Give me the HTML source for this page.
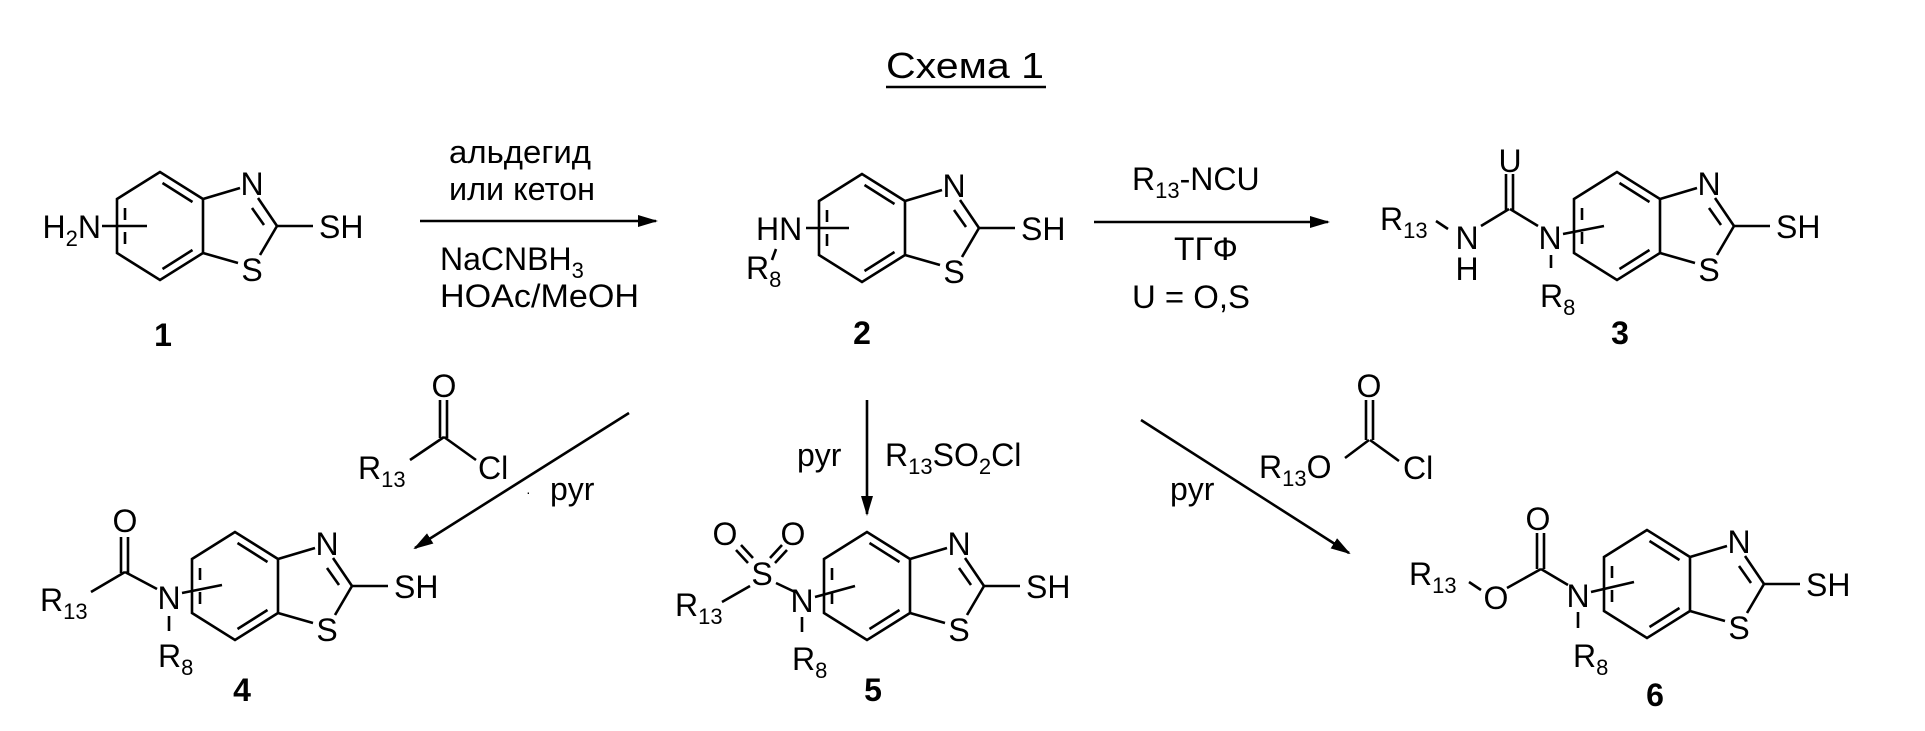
<!DOCTYPE html>
<html><head><meta charset="utf-8"><style>
html,body{margin:0;padding:0;background:#fff;}
svg{display:block;}
text{font-family:"Liberation Sans",sans-serif;fill:#000;}
.a{font-size:32px;}
.s{font-size:22px;}
.b{font-size:32px;font-weight:bold;}
</style></head><body>
<svg width="1925" height="731" viewBox="0 0 1925 731" xmlns="http://www.w3.org/2000/svg">
<defs>
<marker id="ah" markerWidth="20" markerHeight="12" refX="18" refY="6" orient="auto" markerUnits="userSpaceOnUse">
<path d="M0,0 L20,6 L0,12 Z" fill="#000"/>
</marker>
<g id="bt" fill="none" stroke="#000" stroke-width="2.6">
<path d="M0,0 L-43,27 L-43,81 L0,108 L43,81 L43,27 Z"/>
<line x1="2.5" y1="11" x2="32.5" y2="30"/>
<line x1="32.5" y1="78" x2="2.5" y2="97"/>
<line x1="-35" y1="36" x2="-35" y2="48"/>
<line x1="-35" y1="60" x2="-35" y2="72"/>
<line x1="43" y1="27" x2="80" y2="16"/>
<line x1="98" y1="26" x2="117" y2="54"/>
<line x1="92" y1="36" x2="104" y2="53"/>
<line x1="117" y1="54" x2="100" y2="83"/>
<line x1="78" y1="91" x2="43" y2="81"/>
<line x1="117" y1="54" x2="153" y2="54"/>
</g>
</defs>

<text x="886" y="78" font-size="36" textLength="158" lengthAdjust="spacingAndGlyphs">Схема 1</text>
<line x1="886" y1="87" x2="1046" y2="87" stroke="#000" stroke-width="2.5"/>

<use href="#bt" x="160" y="172"/>
<use href="#bt" x="862" y="174"/>
<use href="#bt" x="1617" y="172"/>
<use href="#bt" x="235" y="532"/>
<use href="#bt" x="867" y="532"/>
<use href="#bt" x="1647" y="530"/>

<g class="a" text-anchor="middle">
<text x="252" y="195">N</text><text x="252" y="281">S</text>
<text x="954" y="197">N</text><text x="954" y="283">S</text>
<text x="1709" y="195">N</text><text x="1709" y="281">S</text>
<text x="327" y="555">N</text><text x="327" y="641">S</text>
<text x="959" y="555">N</text><text x="959" y="641">S</text>
<text x="1739" y="553">N</text><text x="1739" y="639">S</text>
</g>
<g class="a">
<text x="319" y="238">SH</text>
<text x="1021" y="240">SH</text>
<text x="1776" y="238">SH</text>
<text x="394" y="598">SH</text>
<text x="1026" y="598">SH</text>
<text x="1806" y="596">SH</text>
</g>

<g fill="none" stroke="#000" stroke-width="2.6">
<line x1="102" y1="226" x2="147" y2="226"/>
<line x1="806" y1="228" x2="849" y2="228"/>
<line x1="776" y1="249" x2="772" y2="260"/>
<line x1="1436" y1="221" x2="1448" y2="229"/>
<line x1="1481" y1="226" x2="1509" y2="209"/>
<line x1="1506" y1="210" x2="1506" y2="174"/>
<line x1="1513" y1="210" x2="1513" y2="174"/>
<line x1="1510" y1="209" x2="1538" y2="226"/>
<line x1="1563" y1="234" x2="1604" y2="226"/>
<line x1="1551" y1="255" x2="1551" y2="268"/>
<line x1="121" y1="573" x2="121" y2="537"/>
<line x1="128" y1="573" x2="128" y2="537"/>
<line x1="125" y1="572" x2="91" y2="592"/>
<line x1="125" y1="572" x2="157" y2="589"/>
<line x1="182" y1="593" x2="222" y2="585"/>
<line x1="169" y1="616" x2="169" y2="631"/>
<line x1="440" y1="438" x2="440" y2="400"/>
<line x1="447" y1="438" x2="447" y2="400"/>
<line x1="444" y1="437" x2="410" y2="460"/>
<line x1="444" y1="437" x2="476" y2="460"/>
<line x1="741" y1="545" x2="753" y2="558"/>
<line x1="736" y1="550" x2="748" y2="563"/>
<line x1="782" y1="545" x2="770" y2="558"/>
<line x1="787" y1="550" x2="775" y2="563"/>
<line x1="750" y1="586" x2="722" y2="602"/>
<line x1="776" y1="583" x2="795" y2="592"/>
<line x1="815" y1="597" x2="855" y2="586"/>
<line x1="802" y1="617" x2="802" y2="632"/>
<line x1="1537" y1="569" x2="1537" y2="533"/>
<line x1="1544" y1="569" x2="1544" y2="533"/>
<line x1="1541" y1="569" x2="1507" y2="588"/>
<line x1="1541" y1="569" x2="1568" y2="585"/>
<line x1="1481" y1="590" x2="1469" y2="582"/>
<line x1="1591" y1="592" x2="1634" y2="582"/>
<line x1="1578" y1="612" x2="1578" y2="628"/>
<line x1="1366" y1="440" x2="1366" y2="400"/>
<line x1="1373" y1="440" x2="1373" y2="400"/>
<line x1="1369" y1="440" x2="1345" y2="458"/>
<line x1="1370" y1="440" x2="1399" y2="461"/>
</g>

<g stroke="#000" stroke-width="2.6" fill="none">
<line x1="420" y1="221" x2="656" y2="221" marker-end="url(#ah)"/>
<line x1="1094" y1="222" x2="1328" y2="222" marker-end="url(#ah)"/>
<line x1="629" y1="413" x2="415" y2="548" marker-end="url(#ah)"/>
<line x1="867" y1="400" x2="867" y2="514" marker-end="url(#ah)"/>
<line x1="1141" y1="420" x2="1349" y2="553" marker-end="url(#ah)"/>
</g>

<g class="a">
<text x="101" y="238" text-anchor="end">H<tspan class="s" dy="8">2</tspan><tspan dy="-8">N</tspan></text>
<text x="756" y="240">HN</text>
<text x="746" y="279">R<tspan class="s" dy="8">8</tspan></text>

<text x="1380" y="230">R<tspan class="s" dy="8">13</tspan></text>
<text x="1467" y="249" text-anchor="middle">N</text>
<text x="1467" y="280" text-anchor="middle">H</text>
<text x="1510" y="172" text-anchor="middle">U</text>
<text x="1550" y="249" text-anchor="middle">N</text>
<text x="1540" y="307">R<tspan class="s" dy="8">8</tspan></text>

<text x="40" y="611">R<tspan class="s" dy="8">13</tspan></text>
<text x="125" y="532" text-anchor="middle">O</text>
<text x="169" y="609" text-anchor="middle">N</text>
<text x="158" y="667">R<tspan class="s" dy="8">8</tspan></text>

<text x="444" y="397" text-anchor="middle">O</text>
<text x="358" y="479">R<tspan class="s" dy="8">13</tspan></text>
<text x="478" y="479">Cl</text>
<text x="550" y="500">pyr</text>
<text x="526" y="497" font-size="14">·</text>

<text x="797" y="466">pyr</text>
<text x="885" y="466">R<tspan class="s" dy="8">13</tspan><tspan dy="-8">SO</tspan><tspan class="s" dy="8">2</tspan><tspan dy="-8">Cl</tspan></text>
<text x="725" y="545" text-anchor="middle">O</text>
<text x="793" y="545" text-anchor="middle">O</text>
<text x="762" y="585" text-anchor="middle">S</text>
<text x="802" y="612" text-anchor="middle">N</text>
<text x="675" y="616">R<tspan class="s" dy="8">13</tspan></text>
<text x="792" y="670">R<tspan class="s" dy="8">8</tspan></text>

<text x="1369" y="397" text-anchor="middle">O</text>
<text x="1259" y="478">R<tspan class="s" dy="8">13</tspan><tspan dy="-8">O</tspan></text>
<text x="1403" y="479">Cl</text>
<text x="1170" y="500">pyr</text>

<text x="1409" y="585">R<tspan class="s" dy="8">13</tspan></text>
<text x="1496" y="609" text-anchor="middle">O</text>
<text x="1538" y="530" text-anchor="middle">O</text>
<text x="1578" y="607" text-anchor="middle">N</text>
<text x="1573" y="667">R<tspan class="s" dy="8">8</tspan></text>
</g>

<g class="a" text-anchor="middle">
<text x="520" y="163" textLength="142" lengthAdjust="spacingAndGlyphs">альдегид</text>
<text x="522" y="200" textLength="146" lengthAdjust="spacingAndGlyphs">или кетон</text>
<text x="1206" y="260" textLength="64" lengthAdjust="spacingAndGlyphs">ТГФ</text>
<text x="1191" y="308" textLength="118" lengthAdjust="spacingAndGlyphs">U = O,S</text>
</g>
<g class="a">
<text x="440" y="270">NaCNBH<tspan class="s" dy="8">3</tspan></text>
<text x="440" y="307" textLength="199" lengthAdjust="spacingAndGlyphs">HOAc/MeOH</text>
<text x="1132" y="190">R<tspan class="s" dy="8">13</tspan><tspan dy="-8">-NCU</tspan></text>
</g>

<g class="b" text-anchor="middle">
<text x="163" y="346">1</text>
<text x="862" y="344">2</text>
<text x="1620" y="344">3</text>
<text x="242" y="701">4</text>
<text x="873" y="701">5</text>
<text x="1655" y="706">6</text>
</g>
</svg>
</body></html>
